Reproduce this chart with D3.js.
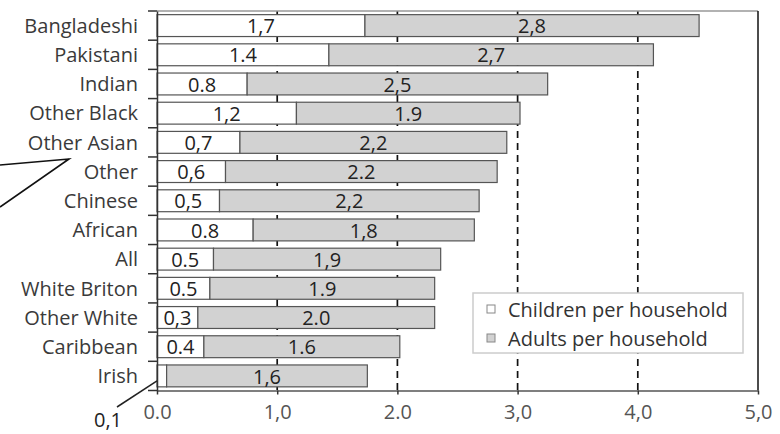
<!DOCTYPE html>
<html>
<head>
<meta charset="utf-8">
<script src="https://cdn.jsdelivr.net/npm/d3@7"></script>
<style>
  html, body { margin: 0; padding: 0; background: #fff; }
  svg { display: block; }
  text { font-family: "Open Sans", "DejaVu Sans", sans-serif; }
</style>
</head>
<body>
<svg id="chart" width="780" height="434"></svg>
<script>
const categories = ["Bangladeshi","Pakistani","Indian","Other Black","Other Asian","Other","Chinese","African","All","White Briton","Other White","Caribbean","Irish"];
const children = [1.73,1.43,0.75,1.16,0.69,0.57,0.52,0.80,0.47,0.44,0.34,0.39,0.08];
const adults   = [2.78,2.70,2.50,1.86,2.22,2.26,2.16,1.84,1.89,1.87,1.97,1.63,1.67];
const childLabels = ["1,7","1.4","0.8","1,2","0,7","0,6","0,5","0.8","0.5","0.5","0,3","0.4",""];
const adultLabels = ["2,8","2,7","2,5","1.9","2,2","2.2","2,2","1,8","1,9","1.9","2.0","1.6","1,6"];
const tickValues = [0,1,2,3,4,5];
const tickLabels = ["0.0","1,0","2.0","3,0","4,0","5,0"];
const seriesNames = ["Children per household","Adults per household"];
const irishNote = "0,1";

const svg = d3.select("#chart");
const x = d3.scaleLinear().domain([0,5]).range([157,758]);
const y = d3.scaleBand().domain(categories).range([11,390.5]).paddingInner(0.25).paddingOuter(0.125);
const FS = 20;

// dashed gridlines
svg.append("g").selectAll("line").data([1,2,3,4]).join("line")
  .attr("x1", d=>x(d)).attr("x2", d=>x(d))
  .attr("y1", y.range()[0]).attr("y2", y.range()[1])
  .attr("stroke","#111").attr("stroke-width",1.7).attr("stroke-dasharray","7,5");

// frame: top and right
svg.append("line").attr("x1",x(0)).attr("x2",x(5)).attr("y1",y.range()[0]).attr("y2",y.range()[0])
  .attr("stroke","#999").attr("stroke-width",1.5);
svg.append("line").attr("x1",x(5)).attr("x2",x(5)).attr("y1",y.range()[0]).attr("y2",y.range()[1])
  .attr("stroke","#111").attr("stroke-width",1.5);

// bars
const rows = categories.map((c,i)=>({c, ch:children[i], ad:adults[i], cl:childLabels[i], al:adultLabels[i]}));
const g = svg.append("g");
g.selectAll("rect.ch").data(rows).join("rect").attr("class","ch")
  .attr("x", x(0)).attr("y", d=>y(d.c)).attr("width", d=>x(d.ch)-x(0)).attr("height", y.bandwidth())
  .attr("fill","#fff").attr("stroke","#555").attr("stroke-width",1.2);
g.selectAll("rect.ad").data(rows).join("rect").attr("class","ad")
  .attr("x", d=>x(d.ch)).attr("y", d=>y(d.c)).attr("width", d=>x(d.ch+d.ad)-x(d.ch)).attr("height", y.bandwidth())
  .attr("fill","#d2d2d2").attr("stroke","#555").attr("stroke-width",1.2);

// value labels
g.selectAll("text.cl").data(rows).join("text").attr("class","cl")
  .attr("x", d=>(x(0)+x(d.ch))/2).attr("y", d=>y(d.c)+y.bandwidth()/2)
  .attr("dy","0.38em").attr("text-anchor","middle").attr("font-size",FS).attr("fill","#222")
  .text(d=>d.cl);
g.selectAll("text.al").data(rows).join("text").attr("class","al")
  .attr("x", d=>(x(d.ch)+x(d.ch+d.ad))/2).attr("y", d=>y(d.c)+y.bandwidth()/2)
  .attr("dy","0.38em").attr("text-anchor","middle").attr("font-size",FS).attr("fill","#222")
  .text(d=>d.al);

// y axis
const yAxis = svg.append("g").attr("transform",`translate(${x(0)},0)`)
  .call(d3.axisLeft(y).tickSize(0).tickPadding(19));
yAxis.select(".domain").attr("stroke","#333").attr("stroke-width",1.5);
yAxis.selectAll("text").attr("font-size",FS).attr("fill","#3a3a3a").attr("dy","0.36em")
  .style("font-family",'"Open Sans", sans-serif');
// boundary ticks
const bounds = categories.map(c=>y(c)-y.step()*y.paddingInner()/2);
bounds.push(y.range()[1]);
yAxis.selectAll("line.bt").data(bounds).join("line").attr("class","bt")
  .attr("x1",-9).attr("x2",0).attr("y1",d=>d).attr("y2",d=>d)
  .attr("stroke","#333").attr("stroke-width",1.5);

// x axis
const xAxis = svg.append("g").attr("transform",`translate(0,${y.range()[1]})`)
  .call(d3.axisBottom(x).tickValues(tickValues).tickFormat((d,i)=>tickLabels[i]).tickSize(4).tickPadding(10).tickSizeOuter(0));
xAxis.select(".domain").attr("stroke","#555").attr("stroke-width",1.5);
xAxis.selectAll(".tick line").attr("stroke","#333").attr("stroke-width",1.5);
xAxis.selectAll("text").attr("font-size",FS).attr("fill","#555")
  .style("font-family",'"Open Sans", sans-serif');

// Irish 0,1 note
const irishY = y("Irish")+y.bandwidth()/2;
svg.append("line").attr("x1",117).attr("y1",407).attr("x2",x(0)).attr("y2",irishY+5)
  .attr("stroke","#222").attr("stroke-width",1.5);
svg.append("text").attr("x",108).attr("y",427).attr("text-anchor","middle")
  .attr("font-size",FS).attr("fill","#222").text(irishNote);

// pointer lines near "Other"
svg.append("polyline").attr("points","0,165 69,159 0,207")
  .attr("fill","none").attr("stroke","#111").attr("stroke-width",1.6);

// legend
const lg = svg.append("g").attr("transform","translate(473,293)");
lg.append("rect").attr("width",270).attr("height",60).attr("fill","#fff").attr("stroke","#ccc").attr("stroke-width",1.5);
const fills = ["#fff","#d2d2d2"];
seriesNames.forEach((s,i)=>{
  lg.append("rect").attr("x",14).attr("y",12+i*29).attr("width",8).attr("height",8)
    .attr("fill",fills[i]).attr("stroke","#888").attr("stroke-width",1);
  lg.append("text").attr("x",35).attr("y",24+i*29).attr("font-size",FS).attr("fill","#333").text(s);
});
</script>
</body>
</html>
